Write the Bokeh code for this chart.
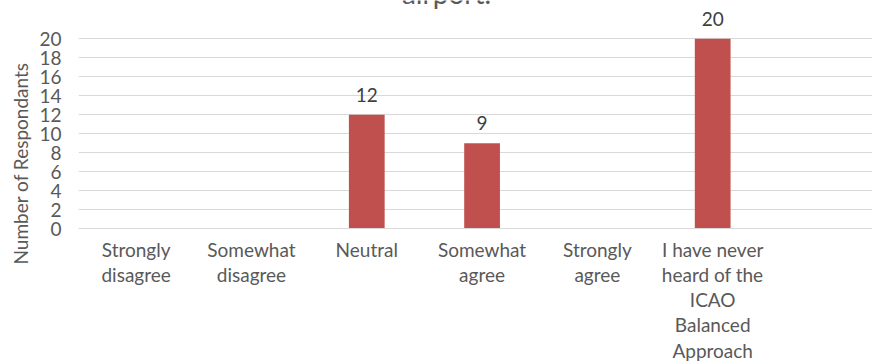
from bokeh.plotting import figure
from bokeh.models import Range1d, FixedTicker, ColumnDataSource, LabelSet, Label, Title
from bokeh.core.properties import value
from bokeh.embed import file_html
from bokeh.resources import INLINE

categories = ["Strongly\ndisagree", "Somewhat\ndisagree", "Neutral", "Somewhat\nagree",
              "Strongly\nagree", "I have never\nheard of the\nICAO\nBalanced\nApproach"]
values = [0, 0, 12, 9, 0, 20]
y_ticks = [0, 2, 4, 6, 8, 10, 12, 14, 16, 18, 20]
title_text = "airport."
y_title = "Number of Respondants"

FONT = "Lato"
GREY = "#595959"

idx = list(range(len(categories)))

p = figure(width=872, height=364, output_backend="svg", toolbar_location=None,
           x_range=Range1d(-0.5, 6.386), y_range=Range1d(0, 24.04),
           min_border_left=78, min_border_right=0, min_border_top=0, min_border_bottom=132)
p.outline_line_color = None
p.background_fill_color = "white"
p.border_fill_color = "white"

p.vbar(x=idx, top=values, width=0.31, fill_color="#C0504D", line_color=None)

lab_idx = [i for i, v in zip(idx, values) if v > 0]
lab_val = [v for v in values if v > 0]
src = ColumnDataSource(dict(x=lab_idx, y=lab_val, t=[str(v) for v in lab_val]))
p.add_layout(LabelSet(x="x", y="y", text="t", source=src, text_align="center",
                      text_baseline="bottom", y_offset=13, text_font=value(FONT),
                      text_font_size=value("19px"), text_color=value("#404040")))

# axes
p.xaxis.ticker = FixedTicker(ticks=idx)
p.xaxis.major_label_overrides = {i: c for i, c in zip(idx, categories)}
p.xaxis.major_label_text_font = FONT
p.xaxis.major_label_text_font_size = "19px"
p.xaxis.major_label_text_color = GREY
p.xaxis.major_label_text_line_height = 1.1
p.xaxis.major_label_standoff = 9
p.xaxis.major_tick_line_color = None
p.xaxis.major_tick_out = 0
p.xaxis.minor_tick_line_color = None
p.xaxis.axis_line_color = "#D9D9D9"

p.yaxis.ticker = FixedTicker(ticks=y_ticks)
p.yaxis.major_label_text_font = FONT
p.yaxis.major_label_text_font_size = "19px"
p.yaxis.major_label_text_color = GREY
p.yaxis.major_label_standoff = 17
p.yaxis.major_tick_line_color = None
p.yaxis.major_tick_out = 0
p.yaxis.minor_tick_line_color = None
p.yaxis.axis_line_color = None

p.xgrid.grid_line_color = None
p.ygrid.grid_line_color = "#D9D9D9"
p.ygrid.grid_line_width = 1

ytitle = Title(text=y_title, align="left", offset=-36, text_font=FONT,
               text_font_size="19px", text_font_style="normal", text_color=GREY)
p.add_layout(ytitle, "left")
p.add_layout(Label(x=368, y=236, x_units="screen", y_units="screen", text=title_text,
                   text_align="center", text_baseline="alphabetic",
                   text_font=FONT, text_font_size="28px", text_color=GREY))

open("out.html", "w").write(file_html(p, INLINE))
